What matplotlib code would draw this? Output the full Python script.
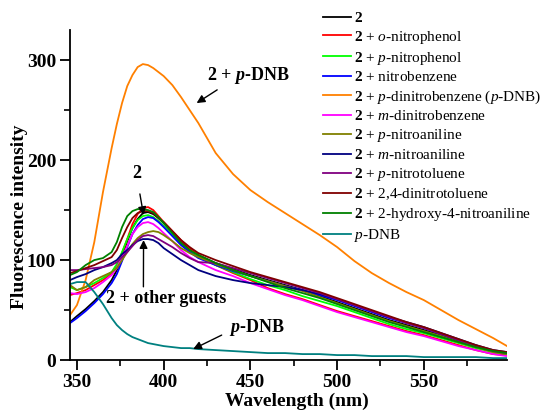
import matplotlib
matplotlib.use('Agg')
import matplotlib.pyplot as plt
from matplotlib.ticker import MultipleLocator

plt.rcParams['font.family'] = ['Liberation Serif', 'DejaVu Serif']
plt.rcParams['mathtext.fontset'] = 'custom'
plt.rcParams['mathtext.rm'] = 'Liberation Serif'
plt.rcParams['mathtext.it'] = 'Liberation Serif:italic'
plt.rcParams['mathtext.bf'] = 'Liberation Serif:bold'
plt.rcParams['mathtext.bfit'] = 'Liberation Serif:bold:italic'

# wavelength grid (nm)
wavelength = [346, 350, 355, 360, 365, 370, 373, 376, 379, 382, 385, 388, 391, 394, 397,
              400, 405, 410, 415, 420,
              430, 440, 450, 460, 470, 480, 490, 500, 510, 520, 530, 540, 550, 560,
              570, 580, 590, 598]

# fluorescence intensity of each sample
host_2 = [38, 44, 51, 59, 68, 80, 90, 104, 119, 132, 141, 147, 148, 146, 142,
          137, 128, 119, 111, 105,
          97, 91, 85, 80, 75, 70, 64, 58, 52, 46, 40, 35, 30, 25, 19, 14, 9, 7]
o_nitrophenol = [65, 67, 70, 75, 80, 87, 95, 107, 121, 136, 146, 152, 153, 150, 144,
                 138, 129, 120, 112, 105,
                 95, 87, 80, 72, 66, 61, 55, 49, 44, 39, 34, 29, 25, 20, 15, 10, 6, 5]
p_nitrophenol = [73, 70, 73, 77, 82, 88, 96, 108, 121, 132, 140, 144, 145, 143, 139,
                 134, 125, 116, 109, 103,
                 95, 88, 81, 75, 70, 64, 59, 54, 48, 42, 36, 31, 27, 22, 17, 12, 8, 6]
nitrobenzene = [37, 42, 49, 57, 66, 77, 86, 99, 113, 126, 135, 141, 143, 142, 138,
                133, 124, 115, 108, 102,
                95, 89, 84, 79, 74, 70, 65, 60, 54, 48, 42, 37, 32, 26, 20, 14, 9, 7]
p_dnb_host = [45, 55, 80, 118, 168, 212, 236, 257, 274, 285, 293, 296, 295, 292, 288,
              284, 275, 263, 250, 237,
              207, 186, 170, 158, 147, 136, 125, 113, 99, 87, 77, 68, 60, 50, 40, 31, 22, 14]
m_dnb = [67, 66, 68, 72, 78, 85, 92, 103, 114, 126, 133, 137, 138, 136, 132,
         127, 119, 110, 103, 98,
         90, 84, 77, 71, 65, 60, 54, 48, 43, 38, 33, 28, 24, 19, 14, 10, 6, 4]
p_nitroaniline = [75, 70, 73, 80, 84, 88, 92, 100, 108, 116, 122, 126, 128, 129, 128,
                  125, 119, 112, 107, 103,
                  96, 90, 84, 79, 74, 69, 63, 57, 51, 45, 39, 34, 29, 24, 18, 13, 8, 6]
m_nitroaniline = [80, 83, 86, 90, 93, 97, 100, 106, 110, 115, 119, 121, 121, 120, 117,
                  112, 106, 100, 95, 90,
                  84, 80, 77, 75, 73, 70, 66, 61, 55, 49, 43, 38, 33, 27, 21, 15, 10, 8]
p_nitrotoluene = [90, 90, 91, 92, 93, 95, 98, 103, 108, 114, 120, 124, 125, 124, 121,
                  118, 113, 107, 102, 98,
                  97, 92, 87, 82, 77, 72, 67, 61, 55, 49, 43, 37, 32, 26, 20, 14, 9, 7]
dnt = [87, 89, 92, 95, 99, 103, 110, 122, 133, 142, 147, 149, 149, 147, 142,
       138, 129, 120, 113, 107,
       100, 94, 88, 83, 78, 73, 68, 62, 56, 50, 44, 38, 33, 27, 21, 15, 10, 8]
hydroxy_na = [85, 88, 95, 100, 102, 108, 118, 133, 144, 149, 151, 151, 150, 148, 143,
              137, 127, 117, 110, 105,
              97, 90, 84, 78, 72, 67, 62, 56, 50, 44, 38, 33, 28, 23, 18, 13, 9, 7]
p_dnb = [76, 78, 78, 68, 56, 42, 35, 30, 26, 23, 21, 19, 17, 16, 15,
         14, 13, 12, 12, 11,
         10, 9, 8, 7, 7, 6, 6, 5, 5, 4, 4, 4, 3, 3, 3, 3, 2, 2]

series = [host_2, o_nitrophenol, p_nitrophenol, nitrobenzene, p_dnb_host, m_dnb,
          p_nitroaniline, m_nitroaniline, p_nitrotoluene, dnt, hydroxy_na, p_dnb]
labels = [r'$\mathbf{2}$',
          r'$\mathbf{2}$ + $\mathit{o}$-nitrophenol',
          r'$\mathbf{2}$ + $\mathit{p}$-nitrophenol',
          r'$\mathbf{2}$ + nitrobenzene',
          r'$\mathbf{2}$ + $\mathit{p}$-dinitrobenzene ($\mathit{p}$-DNB)',
          r'$\mathbf{2}$ + $\mathit{m}$-dinitrobenzene',
          r'$\mathbf{2}$ + $\mathit{p}$-nitroaniline',
          r'$\mathbf{2}$ + $\mathit{m}$-nitroaniline',
          r'$\mathbf{2}$ + $\mathit{p}$-nitrotoluene',
          r'$\mathbf{2}$ + 2,4-dinitrotoluene',
          r'$\mathbf{2}$ + 2-hydroxy-4-nitroaniline',
          r'$\mathit{p}$-DNB']
colors = ['#000000', '#ff0000', '#00ff00', '#0000ff', '#ff8000', '#ff00ff',
          '#808000', '#000080', '#800080', '#800000', '#008000', '#008080']

fig = plt.figure(figsize=(5.47, 4.12), dpi=100)
ax = fig.add_axes([0.128, 0.126, 0.799, 0.801])

for y, lab, c in zip(series, labels, colors):
    ax.plot(wavelength, y, color=c, lw=1.3, label=lab)

ax.set_xlim(346, 598)
ax.set_ylim(0, 330)
ax.xaxis.set_major_locator(MultipleLocator(50))
ax.xaxis.set_minor_locator(MultipleLocator(25))
ax.yaxis.set_major_locator(MultipleLocator(100))
ax.yaxis.set_minor_locator(MultipleLocator(50))
ax.spines['top'].set_visible(False)
ax.spines['right'].set_visible(False)
for s in ['left', 'bottom']:
    ax.spines[s].set_linewidth(1.3)
ax.tick_params(which='major', direction='out', length=7, width=1.3, pad=3, labelsize=14)
ax.tick_params(which='minor', direction='out', length=4, width=1.2)
for t in ax.get_xticklabels() + ax.get_yticklabels():
    t.set_fontweight('bold')

ax.set_xlabel('Wavelength (nm)', fontsize=14, fontweight='bold', labelpad=0)
ax.set_ylabel('Fluorescence intensity', fontsize=14, fontweight='bold', labelpad=4)
ax.xaxis.set_label_coords(0.52, -0.098)
ax.yaxis.set_label_coords(-0.095, 0.433)

arrow = dict(arrowstyle='-|>', color='black', lw=1.0, mutation_scale=12)
ax.annotate(r'2 + $\mathbfit{p}$-DNB', xy=(419, 257), xytext=(449, 285),
            fontsize=13, fontweight='bold', ha='center', va='center',
            arrowprops=dict(arrow, shrinkA=2, shrinkB=0, relpos=(0.2, 0.0)))
ax.annotate('2', xy=(388.4, 145), xytext=(384.2, 187),
            fontsize=13, fontweight='bold', ha='center', va='center',
            arrowprops=dict(arrow, shrinkA=7, shrinkB=0))
ax.annotate('2 + other guests', xy=(388.4, 120), xytext=(401.5, 62),
            fontsize=13, fontweight='bold', ha='center', va='center',
            arrowprops=dict(arrow, shrinkA=0, shrinkB=0,
                            relpos=(0.31, 1.0)))
ax.annotate(r'$\mathbfit{p}$-DNB', xy=(417, 11), xytext=(454, 33),
            fontsize=13, fontweight='bold', ha='center', va='center',
            arrowprops=dict(arrow, shrinkA=4, shrinkB=0, relpos=(0.0, 0.3)))

leg = ax.legend(loc='upper left', bbox_to_anchor=(323 / 547, 1 - 11 / 412),
                bbox_transform=fig.transFigure, frameon=False, fontsize=11,
                handlelength=1.8, handletextpad=0.2, labelspacing=0.25,
                borderpad=0, borderaxespad=0)

fig.savefig('out.png', dpi=100)
